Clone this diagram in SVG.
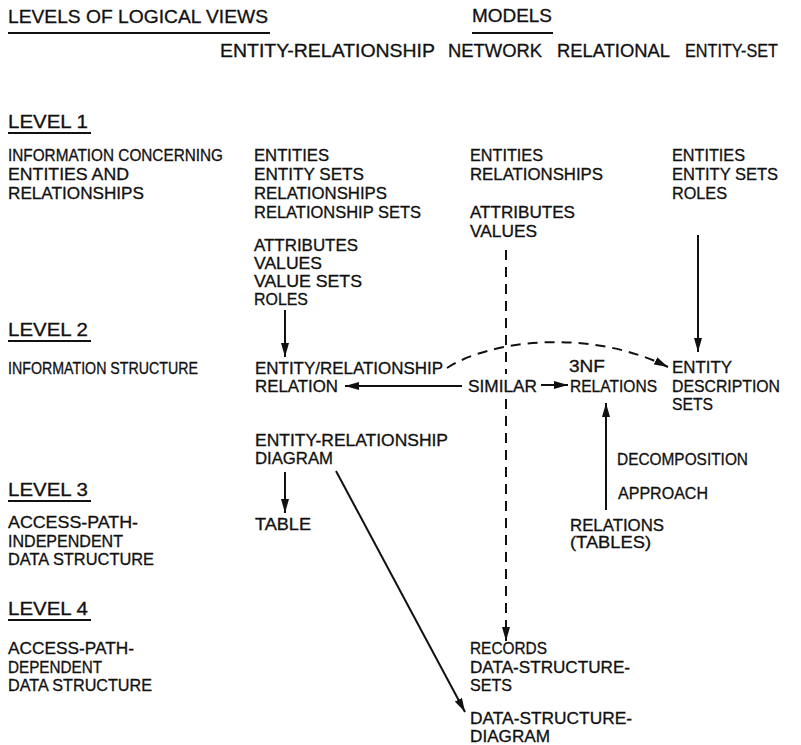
<svg xmlns="http://www.w3.org/2000/svg" width="801" height="745" viewBox="0 0 801 745">
  <style>
    text { font-family: "Liberation Sans", Arial, sans-serif; fill: #111; stroke: #111; stroke-width: 0.3; }
    .hd { font-size: 18px; }
    .tx { font-size: 16px; }
    .ul { stroke: #111; stroke-width: 1.8; fill: none; }
    .ln { stroke: #111; stroke-width: 2; fill: none; }
    .dash { stroke: #111; stroke-width: 2; fill: none; stroke-dasharray: 10 7; }
  </style>
  <defs>
    <marker id="ah" viewBox="0 0 14 8" refX="14" refY="4" markerWidth="14" markerHeight="8" markerUnits="userSpaceOnUse" orient="auto">
      <path d="M0,0 L14,4 L0,8 z" fill="#111"/>
    </marker>
  </defs>
  <rect width="801" height="745" fill="#fff"/>

  <!-- column headings -->
  <g id="heading-levels">
    <text class="hd" x="8" y="23" textLength="260" lengthAdjust="spacingAndGlyphs">LEVELS OF LOGICAL VIEWS</text>
    <line class="ul" x1="8" y1="33" x2="270" y2="33"/>
  </g>
  <g id="heading-models">
    <text class="hd" x="472" y="22" textLength="80" lengthAdjust="spacingAndGlyphs">MODELS</text>
    <line class="ul" x1="472" y1="33" x2="553" y2="33"/>
    <text class="hd" x="220" y="57" textLength="215" lengthAdjust="spacingAndGlyphs">ENTITY-RELATIONSHIP</text>
    <text class="hd" x="448" y="57" textLength="94" lengthAdjust="spacingAndGlyphs">NETWORK</text>
    <text class="hd" x="557" y="57" textLength="113" lengthAdjust="spacingAndGlyphs">RELATIONAL</text>
    <text class="hd" x="685" y="57" textLength="93" lengthAdjust="spacingAndGlyphs">ENTITY-SET</text>
  </g>

  <!-- level labels -->
  <g id="level-1">
    <text class="hd" x="8" y="128" textLength="80" lengthAdjust="spacingAndGlyphs">LEVEL 1</text>
    <line class="ul" x1="8" y1="133" x2="91" y2="133"/>
    <text class="tx" x="8" y="161" textLength="215" lengthAdjust="spacingAndGlyphs">INFORMATION CONCERNING</text>
    <text class="tx" x="8" y="180" textLength="121" lengthAdjust="spacingAndGlyphs">ENTITIES AND</text>
    <text class="tx" x="8" y="199" textLength="136" lengthAdjust="spacingAndGlyphs">RELATIONSHIPS</text>
  </g>
  <g id="level-2">
    <text class="hd" x="8" y="336" textLength="80" lengthAdjust="spacingAndGlyphs">LEVEL 2</text>
    <line class="ul" x1="8" y1="341" x2="91" y2="341"/>
    <text class="tx" x="8" y="374" textLength="190" lengthAdjust="spacingAndGlyphs">INFORMATION STRUCTURE</text>
  </g>
  <g id="level-3">
    <text class="hd" x="8" y="496" textLength="80" lengthAdjust="spacingAndGlyphs">LEVEL 3</text>
    <line class="ul" x1="8" y1="501" x2="91" y2="501"/>
    <text class="tx" x="8" y="528" textLength="130" lengthAdjust="spacingAndGlyphs">ACCESS-PATH-</text>
    <text class="tx" x="8" y="547" textLength="115" lengthAdjust="spacingAndGlyphs">INDEPENDENT</text>
    <text class="tx" x="8" y="565" textLength="146" lengthAdjust="spacingAndGlyphs">DATA STRUCTURE</text>
  </g>
  <g id="level-4">
    <text class="hd" x="8" y="615" textLength="80" lengthAdjust="spacingAndGlyphs">LEVEL 4</text>
    <line class="ul" x1="8" y1="620" x2="91" y2="620"/>
    <text class="tx" x="8" y="654" textLength="126" lengthAdjust="spacingAndGlyphs">ACCESS-PATH-</text>
    <text class="tx" x="8" y="673" textLength="94" lengthAdjust="spacingAndGlyphs">DEPENDENT</text>
    <text class="tx" x="8" y="691" textLength="144" lengthAdjust="spacingAndGlyphs">DATA STRUCTURE</text>
  </g>

  <!-- entity-relationship model -->
  <g id="er-concepts">
    <text class="tx" x="254" y="161" textLength="75" lengthAdjust="spacingAndGlyphs">ENTITIES</text>
    <text class="tx" x="254" y="180" textLength="110" lengthAdjust="spacingAndGlyphs">ENTITY SETS</text>
    <text class="tx" x="254" y="199" textLength="133" lengthAdjust="spacingAndGlyphs">RELATIONSHIPS</text>
    <text class="tx" x="254" y="218" textLength="167" lengthAdjust="spacingAndGlyphs">RELATIONSHIP SETS</text>
    <text class="tx" x="254" y="251" textLength="104" lengthAdjust="spacingAndGlyphs">ATTRIBUTES</text>
    <text class="tx" x="254" y="269" textLength="68" lengthAdjust="spacingAndGlyphs">VALUES</text>
    <text class="tx" x="254" y="287" textLength="108" lengthAdjust="spacingAndGlyphs">VALUE SETS</text>
    <text class="tx" x="254" y="305" textLength="54" lengthAdjust="spacingAndGlyphs">ROLES</text>
  </g>
  <g id="er-relation">
    <text class="tx" x="255" y="374" textLength="188" lengthAdjust="spacingAndGlyphs">ENTITY/RELATIONSHIP</text>
    <text class="tx" x="255" y="392" textLength="83" lengthAdjust="spacingAndGlyphs">RELATION</text>
  </g>
  <g id="er-diagram">
    <text class="tx" x="255" y="446" textLength="193" lengthAdjust="spacingAndGlyphs">ENTITY-RELATIONSHIP</text>
    <text class="tx" x="255" y="464" textLength="78" lengthAdjust="spacingAndGlyphs">DIAGRAM</text>
  </g>
  <g id="er-table">
    <text class="tx" x="255" y="530" textLength="56" lengthAdjust="spacingAndGlyphs">TABLE</text>
  </g>

  <!-- network model -->
  <g id="net-concepts">
    <text class="tx" x="470" y="161" textLength="73" lengthAdjust="spacingAndGlyphs">ENTITIES</text>
    <text class="tx" x="470" y="180" textLength="133" lengthAdjust="spacingAndGlyphs">RELATIONSHIPS</text>
    <text class="tx" x="470" y="218" textLength="105" lengthAdjust="spacingAndGlyphs">ATTRIBUTES</text>
    <text class="tx" x="470" y="237" textLength="67" lengthAdjust="spacingAndGlyphs">VALUES</text>
  </g>
  <g id="similar">
    <text class="tx" x="468" y="392" textLength="69" lengthAdjust="spacingAndGlyphs">SIMILAR</text>
  </g>
  <g id="net-records">
    <text class="tx" x="470" y="654" textLength="77" lengthAdjust="spacingAndGlyphs">RECORDS</text>
    <text class="tx" x="470" y="673" textLength="160" lengthAdjust="spacingAndGlyphs">DATA-STRUCTURE-</text>
    <text class="tx" x="470" y="691" textLength="42" lengthAdjust="spacingAndGlyphs">SETS</text>
  </g>
  <g id="net-diagram">
    <text class="tx" x="470" y="724" textLength="162" lengthAdjust="spacingAndGlyphs">DATA-STRUCTURE-</text>
    <text class="tx" x="470" y="742" textLength="80" lengthAdjust="spacingAndGlyphs">DIAGRAM</text>
  </g>

  <!-- relational model -->
  <g id="rel-3nf">
    <text class="tx" x="569" y="372" textLength="36" lengthAdjust="spacingAndGlyphs">3NF</text>
    <text class="tx" x="570" y="392" textLength="87" lengthAdjust="spacingAndGlyphs">RELATIONS</text>
  </g>
  <g id="rel-decomposition">
    <text class="tx" x="617" y="465" textLength="131" lengthAdjust="spacingAndGlyphs">DECOMPOSITION</text>
    <text class="tx" x="618" y="499" textLength="90" lengthAdjust="spacingAndGlyphs">APPROACH</text>
  </g>
  <g id="rel-tables">
    <text class="tx" x="570" y="531" textLength="94" lengthAdjust="spacingAndGlyphs">RELATIONS</text>
    <text class="tx" x="570" y="548" textLength="81" lengthAdjust="spacingAndGlyphs">(TABLES)</text>
  </g>

  <!-- entity-set model -->
  <g id="es-concepts">
    <text class="tx" x="672" y="161" textLength="73" lengthAdjust="spacingAndGlyphs">ENTITIES</text>
    <text class="tx" x="672" y="180" textLength="106" lengthAdjust="spacingAndGlyphs">ENTITY SETS</text>
    <text class="tx" x="672" y="199" textLength="55" lengthAdjust="spacingAndGlyphs">ROLES</text>
  </g>
  <g id="es-description">
    <text class="tx" x="672" y="373" textLength="60" lengthAdjust="spacingAndGlyphs">ENTITY</text>
    <text class="tx" x="672" y="392" textLength="108" lengthAdjust="spacingAndGlyphs">DESCRIPTION</text>
    <text class="tx" x="672" y="410" textLength="41" lengthAdjust="spacingAndGlyphs">SETS</text>
  </g>

  <!-- connectors -->
  <g id="connectors">
    <path class="ln" d="M285,310 L285,357" marker-end="url(#ah)"/>
    <path class="ln" d="M698,235 L698,352" marker-end="url(#ah)"/>
    <path class="ln" d="M462,386 L345,386" marker-end="url(#ah)"/>
    <path class="ln" d="M541,385 L568,385" marker-end="url(#ah)"/>
    <path class="dash" d="M447,368 C490,340 590,328 668,367" marker-end="url(#ah)"/>
    <path class="dash" d="M506,250 L506,374 M506,399 L506,641" marker-end="url(#ah)"/>
    <path class="ln" d="M606,510 L606,403" marker-end="url(#ah)"/>
    <path class="ln" d="M285,472 L285,513" marker-end="url(#ah)"/>
    <path class="ln" d="M336,471 L465,712" marker-end="url(#ah)"/>
  </g>
</svg>
